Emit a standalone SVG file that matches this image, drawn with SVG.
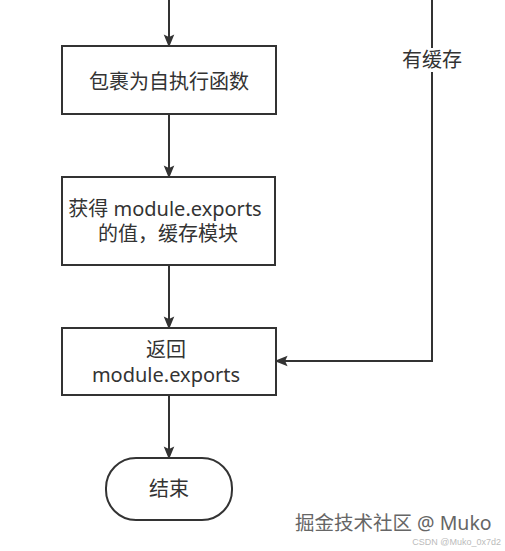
<svg xmlns="http://www.w3.org/2000/svg" width="505" height="551" viewBox="0 0 505 551">
<defs>
<style>
.node{fill:#fff;stroke:#333;stroke-width:2}
.edge{fill:none;stroke:#333;stroke-width:2}
.t{font-family:"Noto Sans","Noto Sans CJK SC",sans-serif;font-size:20px;fill:#333;text-anchor:middle}
</style>
<marker id="arr" markerWidth="13" markerHeight="16" refX="13" refY="6.5" orient="auto" markerUnits="userSpaceOnUse" viewBox="0 0 16 13">
<path d="M0,0 L16,6.5 L0,13 L3,6.5 Z" fill="#333"/>
</marker>
</defs>
<rect width="505" height="551" fill="#fff"/>
<g id="connectors">
<path class="edge" d="M169,0 V45" marker-end="url(#arr)"/>
<path class="edge" d="M169,114 V176" marker-end="url(#arr)"/>
<path class="edge" d="M169,265 V327" marker-end="url(#arr)"/>
<path class="edge" d="M169,395 V457" marker-end="url(#arr)"/>
<path class="edge" d="M432,0 V361 H277" marker-end="url(#arr)"/>
<rect x="400" y="48" width="64" height="24" fill="#fff"/>
<text class="t" x="432" y="67">有缓存</text>
</g>
<g id="wrap">
<rect class="node" x="62" y="46" width="214" height="68"/>
<text class="t" x="169" y="89">包裹为自执行函数</text>
</g>
<g id="getvalue">
<rect class="node" x="62" y="177" width="213" height="88"/>
<text class="t" x="165" y="216" font-size="18">获得 module.exports</text>
<text class="t" x="168" y="241" font-size="18">的值，缓存模块</text>
</g>
<g id="return">
<rect class="node" x="62" y="328" width="214" height="67"/>
<text class="t" x="166" y="357">返回</text>
<text class="t" x="166" y="382">module.exports</text>
</g>
<g id="end">
<rect class="node" x="106" y="458" width="126" height="62" rx="30" ry="30"/>
<text class="t" x="169" y="496">结束</text>
</g>
<text x="295" y="530" font-family="'Noto Sans','Noto Sans CJK SC',sans-serif" font-size="19.5" fill="#666">掘金技术社区 @ Muko</text>
<text x="501" y="545" font-family="'Liberation Sans',sans-serif" font-size="9" fill="#bbb" text-anchor="end">CSDN @Muko_0x7d2</text>
</svg>
